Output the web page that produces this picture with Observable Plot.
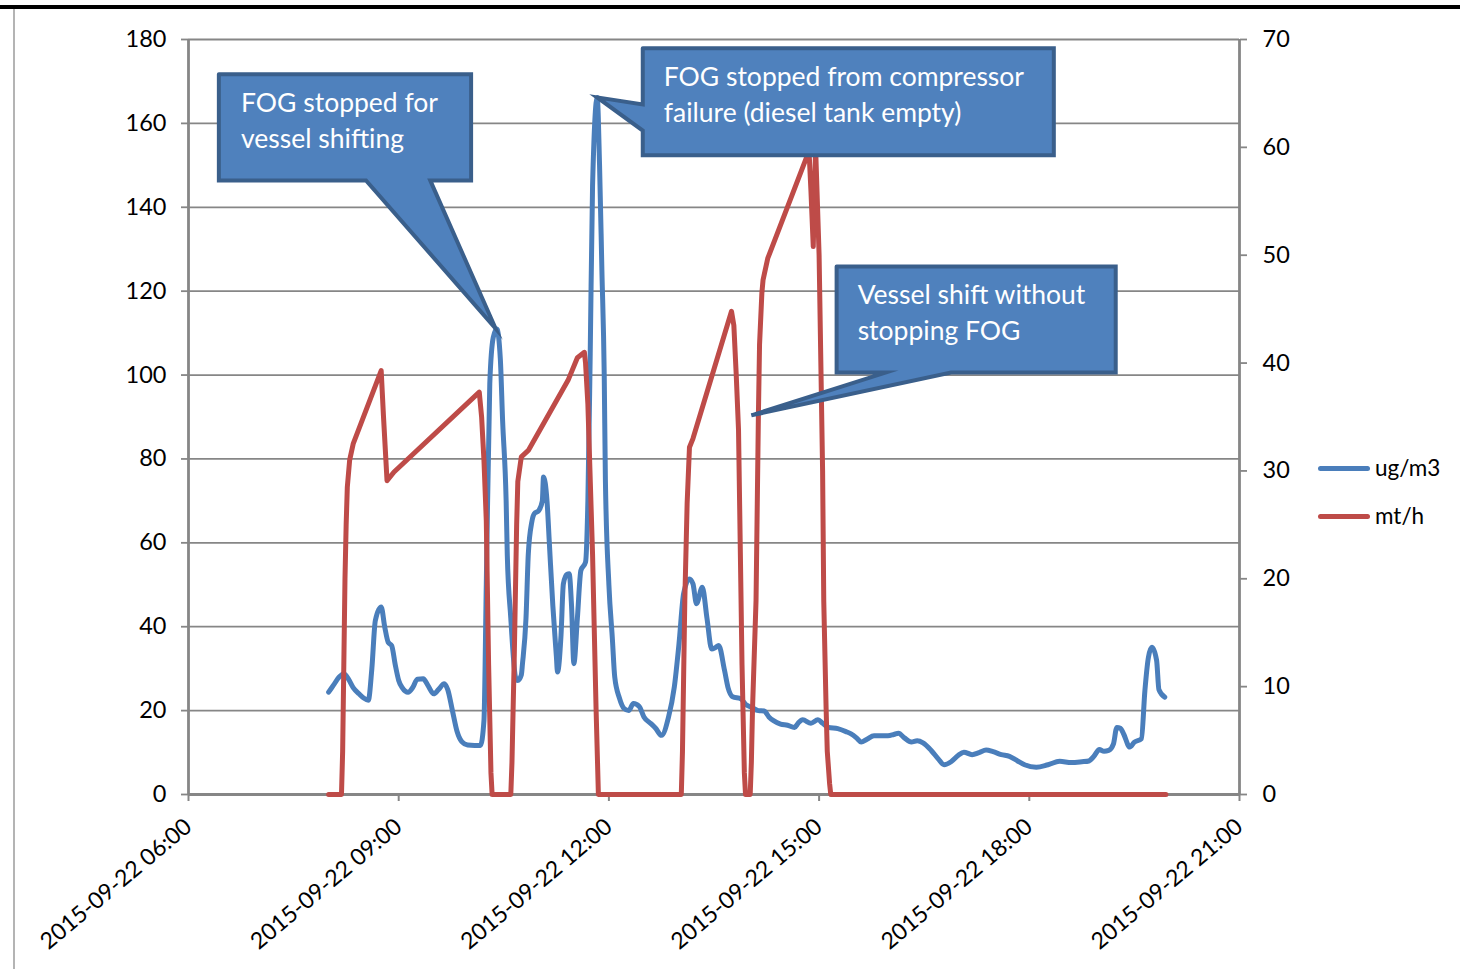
<!DOCTYPE html>
<html><head><meta charset="utf-8">
<script src="https://cdn.jsdelivr.net/npm/d3@7"></script>
<script src="https://cdn.jsdelivr.net/npm/@observablehq/plot@0.6"></script>
<style>
html,body{margin:0;padding:0;background:#fff;}
#wrap{position:relative;width:1460px;height:969px;overflow:hidden;font-family:Lato,"Open Sans",sans-serif;background:#fff;}
#topbar{position:absolute;left:0;top:5px;width:1460px;height:4px;background:#000;}
#leftbar{position:absolute;left:13px;top:9px;width:2px;height:960px;background:#b4b4b4;}
#chart{position:absolute;left:0;top:0;}
.sw{position:absolute;width:52px;height:5px;border-radius:3px;}
.lt{position:absolute;font-size:22.5px;line-height:26px;color:#000;}
</style>
</head><body>
<div id="wrap">
  <div id="topbar"></div>
  <div id="leftbar"></div>
  <div id="chart"></div>
  <div class="sw" id="sw1"></div><div class="lt" id="lt1"></div>
  <div class="sw" id="sw2"></div><div class="lt" id="lt2"></div>
</div>
<script>
// ---------- data ----------
const seriesNames = ["ug/m3", "mt/h"];
const seriesColors = ["#4A7EBB", "#BE4B48"];

// ug/m3 (left axis)
const ugm3 = [
 ["08:00",24.4],["08:04",26],["08:09",28],["08:13",28.8],["08:17",27.5],["08:21",25.5],["08:26",24],["08:30",23],["08:34",22.5],
 ["08:37",30],["08:40",41.5],["08:45",44.7],["08:48",40],["08:51",36.3],["08:54",35.5],["08:57",31],["09:00",27.2],["09:03",25.5],
 ["09:08",24.4],["09:12",25.5],["09:16",27.5],["09:21",27.6],["09:25",26],["09:30",24],["09:34",25],["09:39",26.4],["09:42",25],
 ["09:46",20],["09:50",15],["09:54",12.6],["09:59",11.8],["10:05",11.7],["10:10",11.7],["10:13",17.6],["10:15",50],["10:18",98],
 ["10:21",109],["10:24",111],["10:27",104],["10:29",89],["10:32",70],["10:33",57],["10:36",42],["10:38",33.5],["10:40",28],
 ["10:42",27.2],["10:45",28.5],["10:46",31.2],["10:49",42],["10:51",57.4],["10:54",65],["10:56",66.9],["11:00",67.7],["11:03",70],
 ["11:04",75.7],["11:07",70],["11:09",60],["11:12",45],["11:15",33],["11:16",29.2],["11:19",38],["11:21",50.2],["11:24",52.5],
 ["11:26",52.6],["11:28",45],["11:30",31.2],["11:33",42],["11:36",53.4],["11:40",55.4],["11:42",70],["11:44",105],["11:46",145],
 ["11:50",166.2],["11:52",150],["11:54",125],["11:56",100],["11:57",75],["12:00",50],["12:03",37],["12:05",28],["12:09",23],
 ["12:13",20.5],["12:17",20],["12:21",21.7],["12:26",21],["12:30",18.5],["12:36",16.9],["12:40",15.8],["12:45",14.1],["12:51",18.4],
 ["12:56",25.6],["13:00",35.9],["13:04",47.9],["13:09",51.4],["13:12",50.2],["13:15",45.5],["13:20",49.4],["13:24",42],["13:28",34.7],
 ["13:31",35],["13:34",35.5],["13:39",29.6],["13:42",25.5],["13:46",23.3],["13:53",22.8],["13:57",21.5],["14:02",20.8],["14:08",20],
 ["14:13",19.9],["14:17",18.5],["14:21",17.6],["14:27",16.8],["14:33",16.5],["14:39",16],["14:42",17],["14:46",17.8],["14:53",17],
 ["14:59",17.8],["15:03",17],["15:08",16],["15:16",15.7],["15:23",15],["15:27",14.5],["15:32",13.5],["15:36",12.5],["15:41",13.2],
 ["15:47",14],["15:53",14],["15:59",14],["16:04",14.3],["16:08",14.6],["16:13",13.5],["16:19",12.5],["16:24",12.8],["16:29",12.3],
 ["16:36",10.5],["16:42",8.5],["16:47",7.1],["16:53",7.8],["16:59",9.3],["17:04",10.1],["17:11",9.5],["17:17",10],["17:23",10.6],
 ["17:29",10.2],["17:36",9.5],["17:43",9.1],["17:50",8],["17:56",7.1],["18:06",6.5],["18:16",7.1],["18:26",7.9],["18:36",7.6],
 ["18:45",7.8],["18:51",8],["18:55",9],["19:00",10.7],["19:04",10.3],["19:08",10.5],["19:12",12],["19:15",16],["19:18",15.8],
 ["19:21",14.3],["19:26",11.3],["19:30",12.5],["19:36",13.3],["19:39",24.8],["19:42",32.7],["19:45",35.1],["19:49",32],["19:51",25],
 ["19:56",23.2]
];

// mt/h (right axis)
const mth = [
 ["08:00",0],["08:11",0],["08:12",4],["08:13",12],["08:14",20],["08:15",25],["08:16",28.5],["08:18",31],["08:21",32.5],["08:45",39.3],["08:47",35],
 ["08:50",29.1],["08:56",29.9],["10:09",37.3],["10:11",35],["10:13",31],["10:15",25.4],["10:17",12],["10:19",2],["10:20",0],["10:36",0],["10:37",3],["10:39",13],
 ["10:41",25],["10:42",29],["10:45",31.3],["10:51",31.9],["11:25",38.4],["11:33",40.5],["11:39",41],["11:40",40],["11:42",36.2],["11:46",22.3],["11:49",8],
 ["11:51",0],["13:02",0],["13:03",4],["13:05",18],["13:07",27],["13:09",32.2],["13:12",33],["13:45",44.8],["13:47",43.5],["13:49",39],["13:51",33.8],["13:54",12],
 ["13:56",2],["13:57",0],["14:01",0],["14:02",3],["14:03",8],["14:06",18],["14:08",35],["14:09",41.7],["14:11",46.5],["14:12",47.7],["14:16",49.7],["14:49",59],["14:51",60.5],
 ["14:53",56],["14:55",50.8],["14:57",60],["15:00",50],["15:03",30],["15:04",17.9],["15:06",8],["15:07",4],["15:09",1],["15:10",0],["19:57",0]
];

const leftTicks = [0,20,40,60,80,100,120,140,160,180];
const rightTicks = [0,10,20,30,40,50,60,70];
const xTickTimes = ["06:00","09:00","12:00","15:00","18:00","21:00"];
const datePrefix = "2015-09-22 ";

// callout annotations (anchored in data coordinates: time, left-axis value)
const calloutTexts = [
 {id:1, at:["06:45",161.1], text:"FOG stopped for\nvessel shifting"},
 {id:2, at:["12:47",167.3], text:"FOG stopped from compressor\nfailure (diesel tank empty)"},
 {id:3, at:["15:33",115.3], text:"Vessel shift without\nstopping FOG"}
];
const calloutShapes = [
 {id:1, pts:[["06:26",171.7],["10:02",171.7],["10:02",146.4],["09:27",146.4],["10:23",111.1],["08:32",146.4],["06:26",146.4],["06:26",171.7]]},
 {id:2, pts:[["12:29",177.9],["18:21",177.9],["18:21",152.4],["12:29",152.4],["12:29",158.3],["11:50",166.2],["12:29",164.5],["12:29",177.9]]},
 {id:3, pts:[["15:15",125.9],["19:14",125.9],["19:14",100.6],["16:53",100.6],["14:02",90.4],["15:57",100.6],["15:15",100.6],["15:15",125.9]]}
];

// ---------- build ----------
const T = s => { const [h,m] = s.split(":").map(Number); return new Date(Date.UTC(2015,8,22,h,m)); };
const k = 180/70; // right-axis value -> left-axis scale
const blue = ugm3.map(([t,v]) => ({t:T(t), v}));
const red = mth.map(([t,v]) => ({t:T(t), v:v*k}));
const polys = calloutShapes.flatMap(c => c.pts.map(([t,v]) => ({id:c.id, t:T(t), v})));
const texts = calloutTexts.map(c => ({t:T(c.at[0]), v:c.at[1], text:c.text}));
const xTicks = xTickTimes.map(T);
const xDomain = [xTicks[0], xTicks[xTicks.length-1]];
const fmt = d3.utcFormat("%H:%M");
const gray = "#868686";

const chart = Plot.plot({
  width:1460, height:969,
  marginLeft:188, marginRight:221, marginTop:39, marginBottom:175,
  style:{fontFamily:"Lato, 'Open Sans', sans-serif", background:"transparent", overflow:"visible"},
  x:{type:"utc", domain:xDomain},
  y:{domain:[0,180]},
  marks:[
    Plot.ruleY(leftTicks, {stroke:gray, strokeWidth:1.8}),
    Plot.axisY(leftTicks, {anchor:"left", label:null, tickSize:7, tickPadding:15, fontSize:23.5, stroke:gray, strokeWidth:1.8, fill:"#000"}),
    Plot.axisY(rightTicks.map(v => v*k), {anchor:"right", label:null, tickFormat:d => Math.round(d/k), tickSize:7, tickPadding:16, fontSize:23.5, stroke:gray, strokeWidth:1.8, fill:"#000"}),
    Plot.axisX(xTicks, {anchor:"bottom", label:null, tickRotate:-40, tickFormat:d => datePrefix + fmt(d), tickSize:7, tickPadding:22, fontSize:23, stroke:gray, strokeWidth:2, fill:"#000"}),
    Plot.ruleX(xDomain, {y1:0, y2:180, stroke:gray, strokeWidth:2.8}),
    Plot.ruleY([0], {stroke:gray, strokeWidth:2.8}),
    Plot.line(blue, {x:"t", y:"v", stroke:seriesColors[0], strokeWidth:5, curve:"monotone-x"}),
    Plot.line(red, {x:"t", y:"v", stroke:seriesColors[1], strokeWidth:5, curve:"linear"}),
    Plot.line(polys, {x:"t", y:"v", z:"id", curve:"linear", fill:"#4F81BD", stroke:"#3A5F8B", strokeWidth:4, strokeLinejoin:"miter", strokeMiterlimit:10}),
    Plot.text(texts, {x:"t", y:"v", text:"text", fill:"#fff", fontSize:26.5, textAnchor:"start", lineAnchor:"middle", lineHeight:1.36})
  ]
});
document.getElementById("chart").appendChild(chart);

// legend
const sw1 = document.getElementById("sw1"), sw2 = document.getElementById("sw2");
sw1.style.cssText += "left:1318px;top:466px;background:" + seriesColors[0];
sw2.style.cssText += "left:1318px;top:514px;background:" + seriesColors[1];
const lt1 = document.getElementById("lt1"), lt2 = document.getElementById("lt2");
lt1.textContent = seriesNames[0]; lt1.style.cssText += "left:1375px;top:455px;";
lt2.textContent = seriesNames[1]; lt2.style.cssText += "left:1375px;top:503px;";
</script>
</body></html>
